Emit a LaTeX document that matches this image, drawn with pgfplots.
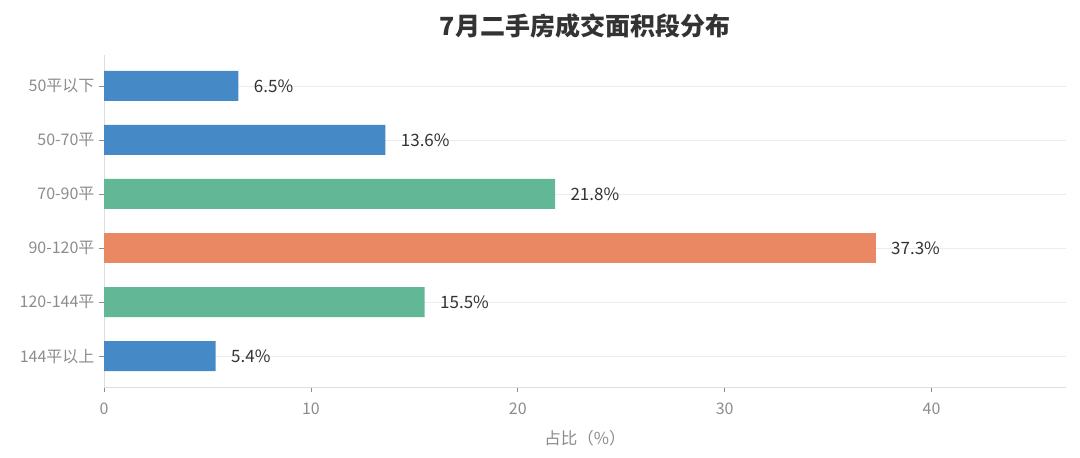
\documentclass[border=0pt]{standalone}
\usepackage{pgfplots}
\pgfplotsset{compat=1.18}
\usepackage{fontspec}
\setmainfont{Noto Sans CJK SC}
\definecolor{cblue}{HTML}{4589C6}
\definecolor{cgreen}{HTML}{62B896}
\definecolor{corange}{HTML}{E98862}
\definecolor{tgrey}{HTML}{8C8C8C}
\definecolor{lgrey}{HTML}{DDDDDD}
\definecolor{ggrey}{HTML}{ECECEC}
\begin{document}
\begin{tikzpicture}
\useasboundingbox (0,0) rectangle (1080bp,458bp);
\node[font=\fontsize{25bp}{28bp}\selectfont\bfseries, text=black!80] at (585bp,432bp) {7月二手房成交面积段分布};
\begin{axis}[
  at={(104bp,71bp)}, anchor=south west,
  scale only axis, width=962bp, height=332bp,
  xbar, bar width=30bp, bar shift=0pt,
  xmin=0, xmax=46.5, ymin=-0.57, ymax=5.57,
  axis x line*=bottom, axis y line*=left,
  axis line style={lgrey, line width=0.8pt},
  ytick={0,1,2,3,4,5},
  yticklabels={144平以上,120-144平,90-120平,70-90平,50-70平,50平以下},
  xtick={0,10,20,30,40},
  /pgf/number format/assume math mode=true,
  tick style={tgrey, line width=0.6pt},
  major tick length=5bp,
  tick align=outside,
  ymajorgrids, major grid style={ggrey, line width=0.6pt},
  ticklabel style={font=\fontsize{16bp}{18bp}\selectfont, text=tgrey},
  yticklabel style={xshift=-1bp},
  xticklabel style={yshift=-7bp},
  xlabel={占比（\%）},
  xlabel style={font=\fontsize{16.5bp}{18bp}\selectfont, text=tgrey, yshift=-9bp},
  point meta=x,
  nodes near coords={\pgfmathprintnumber[fixed,precision=1,fixed zerofill]{\pgfplotspointmeta}\%},
  nodes near coords style={anchor=west, xshift=12bp, font=\fontsize{17bp}{19bp}\selectfont, text=black!80, /pgf/number format/assume math mode=true},
  clip=false,
]
\addplot[fill=cblue, draw=none] coordinates {(5.4,0) (13.6,4) (6.5,5)};
\addplot[fill=cgreen, draw=none] coordinates {(15.5,1) (21.8,3)};
\addplot[fill=corange, draw=none] coordinates {(37.3,2)};
\end{axis}
\end{tikzpicture}
\end{document}
